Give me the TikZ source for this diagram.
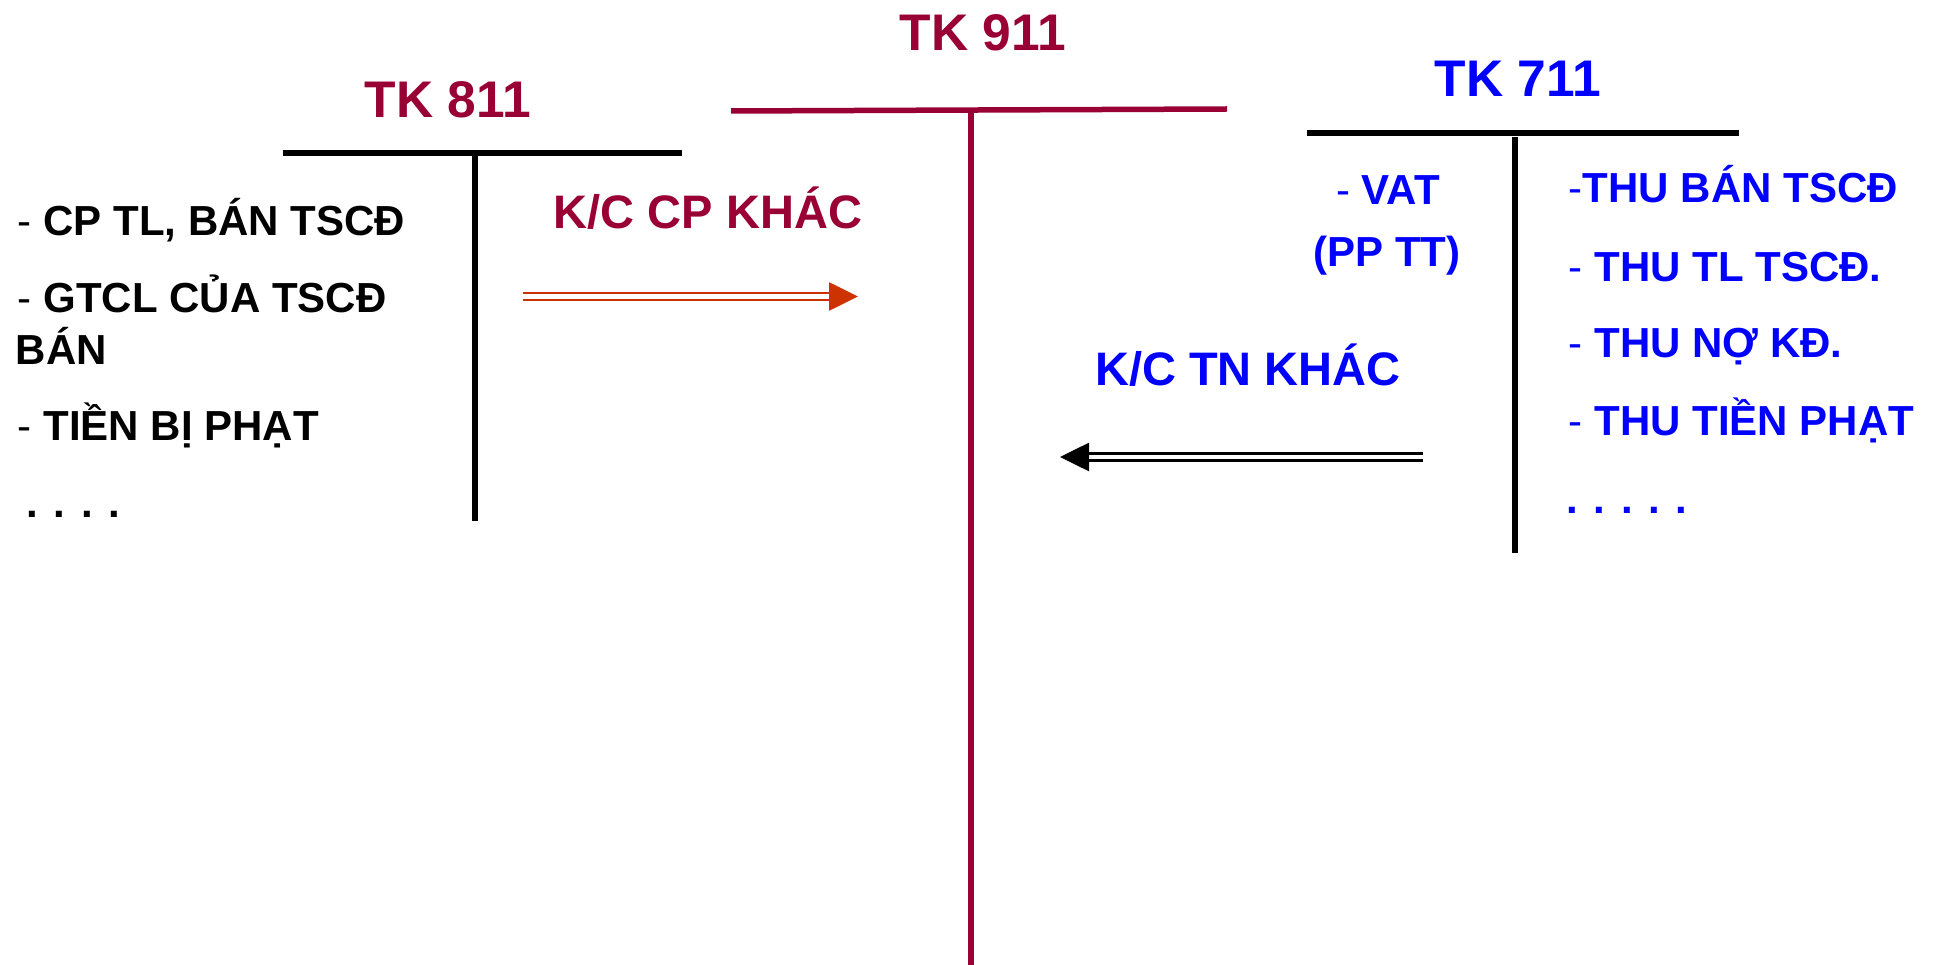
\documentclass[tikz,border=0pt]{standalone}
\usepackage{fontspec}
\setmainfont{Liberation Sans}
\usetikzlibrary{arrows.meta}

\definecolor{tkred}{RGB}{153,0,51}
\definecolor{tkblue}{RGB}{0,0,255}
\definecolor{kcred}{RGB}{204,51,0}
\newcommand{\fs}[1]{\fontsize{#1}{#1}\selectfont}

\begin{document}
\begin{tikzpicture}[x=1pt, y=-1pt, line width=5.5pt,
  title/.style={font=\fs{51.5}\bfseries, anchor=base, inner sep=0pt},
  item/.style={font=\fs{42}, anchor=base west, inner sep=0pt},
  kcnote/.style={font=\fs{47}\bfseries, anchor=base, inner sep=0pt},
  kcarrow/.style={line width=2.7pt, double distance=4.3pt,
    -{Triangle[length=29pt,width=28pt]}}]
  \useasboundingbox (0,0) rectangle (1935,965);

  % TK 811
  \node[title, tkred] (t811) at (448,118) {TK 811};
  \draw (283,153) -- (682,153);
  \draw (475,153) -- (475,521);
  \node[item] (cptl) at (15,236) {- \textbf{CP TL, BÁN TSCĐ}};
  \node[item] (gtcl) at (15,313) {- \textbf{GTCL CỦA TSCĐ}};
  \node[item] (gtclban) at (13,365) {\textbf{BÁN}};
  \node[item] (phat) at (15,440) {- \textbf{TIỀN BỊ PHẠT}};
  \node[item] (dotsl) at (24,517) {\textbf{. . . .}};

  % TK 911
  \node[title, tkred] (t911) at (983,51) {TK 911};
  \draw[tkred] (731,111) -- (1227,109);
  \draw[tkred] (971,110) -- (971,965);

  % TK 711
  \node[title, tkblue] (t711) at (1518,97) {TK 711};
  \draw (1307,133) -- (1739,133);
  \draw (1515,137) -- (1515,553);
  \node[item, tkblue, anchor=base] (vat) at (1388,205) {- \textbf{VAT}};
  \node[item, tkblue, anchor=base] (pptt) at (1387,267) {\textbf{(PP TT)}};
  \node[item, tkblue] (thuban) at (1566,203) {-\textbf{THU BÁN TSCĐ}};
  \node[item, tkblue] (thutl) at (1566,282) {- \textbf{THU TL TSCĐ.}};
  \node[item, tkblue] (thuno) at (1566,358) {- \textbf{THU NỢ KĐ.}};
  \node[item, tkblue] (thuphat) at (1566,435) {- \textbf{THU TIỀN PHẠT}};
  \node[item, tkblue] (dotsr) at (1564,513) {\textbf{. . . . .}};

  % ket chuyen
  \node[kcnote, tkred] (kccp) at (708,229) {K/C CP KHÁC};
  \coordinate (cpfrom) at (523,296.5);
  \coordinate (cpto) at (858,296.5);
  \draw[kcarrow, kcred] (cpfrom) -- (cpto);

  \node[kcnote, tkblue] (kctn) at (1248,385) {K/C TN KHÁC};
  \coordinate (tnfrom) at (1423,457);
  \coordinate (tnto) at (1060,457);
  \draw[kcarrow, black] (tnfrom) -- (tnto);
\end{tikzpicture}
\end{document}
